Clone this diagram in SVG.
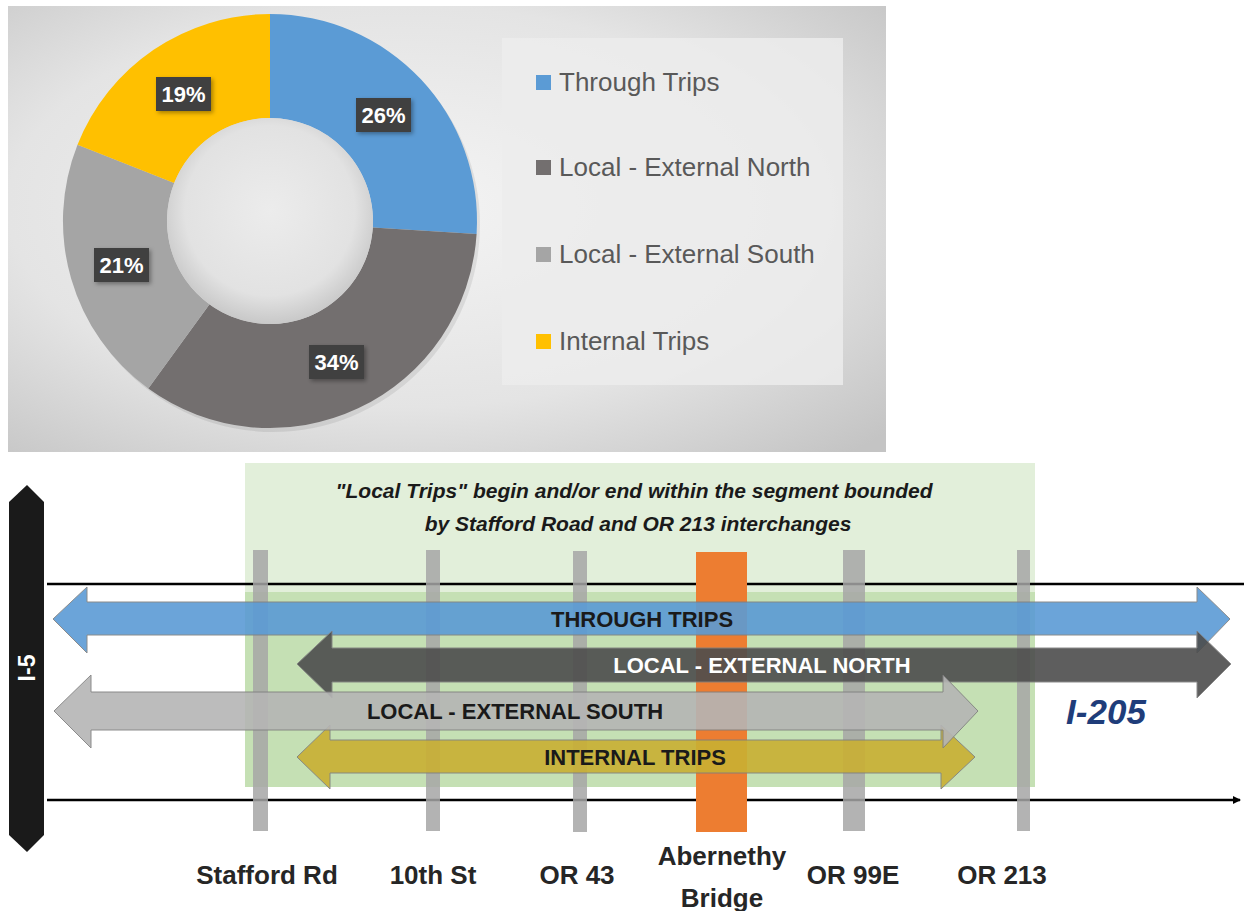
<svg xmlns="http://www.w3.org/2000/svg" width="1244" height="911" viewBox="0 0 1244 911">
<defs>
<radialGradient id="panelBg" cx="0.45" cy="0.45" r="0.75">
<stop offset="0" stop-color="#f4f4f4"/>
<stop offset="0.6" stop-color="#e4e4e4"/>
<stop offset="1" stop-color="#c4c4c4"/>
</radialGradient>
<radialGradient id="holeBg" cx="0.5" cy="0.45" r="0.55">
<stop offset="0" stop-color="#ececec"/>
<stop offset="0.75" stop-color="#e2e2e2"/>
<stop offset="1" stop-color="#c8c8c8"/>
</radialGradient>
<filter id="shadow" x="-20%" y="-20%" width="140%" height="140%">
<feDropShadow dx="2" dy="2" stdDeviation="2" flood-color="#000" flood-opacity="0.35"/>
</filter>
<marker id="arrowEnd" markerWidth="8" markerHeight="8" refX="7" refY="4" orient="auto" markerUnits="userSpaceOnUse">
<path d="M0,0 L8,4 L0,8 Z" fill="#000"/>
</marker>
<style>
.lbl{font-family:"Liberation Sans",Arial,sans-serif;font-weight:bold;font-size:22px;fill:#fff;text-anchor:middle}
.box{fill:#404040;filter:url(#shadow)}
.leg{font-family:"Liberation Sans",Arial,sans-serif;font-size:26px;fill:#595959}
.arrowtxt{font-family:"Liberation Sans",Arial,sans-serif;font-weight:bold;font-size:22px;fill:#1a1a1a;text-anchor:middle}
.place{font-family:"Liberation Sans",Arial,sans-serif;font-weight:bold;font-size:26px;fill:#262626;text-anchor:middle}
.bar{fill:#a6a6a6;opacity:0.85}
.trip{stroke:#7f7f7f;stroke-width:1;opacity:0.9}
.hwy{stroke:#000;stroke-width:2.5;fill:none}
</style>
</defs>
<rect width="1244" height="911" fill="#fff"/>

<g id="chart-panel">
<rect x="8" y="6" width="878" height="446" fill="url(#panelBg)"/>
</g>

<g id="donut">
<circle cx="273" cy="225" r="207" fill="#000" opacity="0.08"/>
<path id="slice-through" d="M270,14 A207,207 0 0 1 476.6,234 L372.8,227.5 A103,103 0 0 0 270,118 Z" fill="#5b9bd5"/>
<path id="slice-north" d="M476.6,234 A207,207 0 0 1 148.3,388.5 L209.5,304.3 A103,103 0 0 0 372.8,227.5 Z" fill="#736f6f"/>
<path id="slice-south" d="M148.3,388.5 A207,207 0 0 1 77.5,144.8 L174.2,183.1 A103,103 0 0 0 209.5,304.3 Z" fill="#a5a5a5"/>
<path id="slice-internal" d="M77.5,144.8 A207,207 0 0 1 270,14 L270,118 A103,103 0 0 0 174.2,183.1 Z" fill="#ffc000"/>
<circle cx="270" cy="221" r="103" fill="url(#holeBg)"/>
</g>

<g id="label-26">
<rect class="box" x="356" y="98" width="55" height="34"/>
<text class="lbl" x="383.5" y="123">26%</text>
</g>
<g id="label-34">
<rect class="box" x="309" y="345" width="55" height="34"/>
<text class="lbl" x="336.5" y="370">34%</text>
</g>
<g id="label-21">
<rect class="box" x="94" y="248" width="55" height="34"/>
<text class="lbl" x="121.5" y="273">21%</text>
</g>
<g id="label-19">
<rect class="box" x="156" y="77" width="55" height="34"/>
<text class="lbl" x="183.5" y="102">19%</text>
</g>

<g id="legend">
<rect x="502" y="38" width="341" height="347" fill="#ececec" opacity="0.85"/>
<rect x="536" y="75" width="15" height="15" fill="#5b9bd5"/>
<text class="leg" x="559" y="91">Through Trips</text>
<rect x="536" y="160" width="15" height="15" fill="#736f6f"/>
<text class="leg" x="559" y="176">Local - External North</text>
<rect x="536" y="247" width="15" height="15" fill="#a5a5a5"/>
<text class="leg" x="559" y="263">Local - External South</text>
<rect x="536" y="334" width="15" height="15" fill="#ffc000"/>
<text class="leg" x="559" y="350">Internal Trips</text>
</g>

<g id="local-zone">
<rect x="245" y="463" width="790" height="324" fill="#e2efda"/>
<rect x="245" y="592" width="790" height="195" fill="#c5e0b4"/>
<text font-family="'Liberation Sans',Arial,sans-serif" font-weight="bold" font-style="italic" font-size="21" fill="#1a1a1a" text-anchor="middle">
<tspan x="637" y="498">"Local Trips" begin and/or end within the segment bounded</tspan>
<tspan x="638" y="531">by Stafford Road and OR 213 interchanges</tspan>
</text>
</g>

<g id="connectors">
<line class="hwy" x1="47" y1="584" x2="1244" y2="584"/>
<line class="hwy" x1="47" y1="800" x2="1240" y2="800" marker-end="url(#arrowEnd)"/>
</g>

<g id="i5">
<polygon points="27,485 44,502 44,835 27,852 9,835 9,502" fill="#1a1a1a"/>
<text transform="translate(27,668) rotate(-90)" font-family="'Liberation Sans',Arial,sans-serif" font-weight="bold" font-size="23" fill="#fff" text-anchor="middle" y="8">I-5</text>
</g>

<g id="bar-stafford"><rect class="bar" x="253" y="550" width="15" height="281"/></g>
<g id="bar-10th"><rect class="bar" x="426" y="550" width="14" height="281"/></g>
<g id="bar-or43"><rect class="bar" x="573" y="551" width="14" height="281"/></g>
<g id="bar-abernethy"><rect x="696" y="552" width="51" height="280" fill="#ed7d31"/></g>
<g id="bar-or99e"><rect class="bar" x="843" y="550" width="22" height="281"/></g>
<g id="bar-or213"><rect class="bar" x="1017" y="550" width="13" height="281"/></g>

<g id="through-trips">
<polygon class="trip" fill="#5b9bd5" points="53,619 87,587 87,602 1197,602 1197,587 1230,619 1197,653 1197,635 87,635 87,653"/>
<text class="arrowtxt" x="642" y="627">THROUGH TRIPS</text>
</g>
<g id="local-external-north">
<polygon class="trip" fill="#4d4d4d" points="297,664 332,631 332,648 1197,648 1197,631 1231,664 1197,698 1197,682 332,682 332,698"/>
<text class="arrowtxt" x="762" y="673" style="fill:#fff">LOCAL - EXTERNAL NORTH</text>
</g>
<g id="internal-trips">
<polygon class="trip" fill="#c9b033" points="297,757 330,725 330,740 941,740 941,725 975,757 941,789 941,773 330,773 330,789"/>
<text class="arrowtxt" x="635" y="765">INTERNAL TRIPS</text>
</g>
<g id="local-external-south">
<polygon class="trip" fill="#b5b5b5" points="54,711 91,675 91,692 943,692 943,675 978,711 943,748 943,730 91,730 91,748"/>
<text class="arrowtxt" x="515" y="719">LOCAL - EXTERNAL SOUTH</text>
</g>

<g id="i205">
<text x="1106" y="724" font-family="'Liberation Sans',Arial,sans-serif" font-weight="bold" font-style="italic" font-size="35" fill="#1f3d7a" text-anchor="middle">I-205</text>
</g>

<g id="place-labels">
<text class="place" x="267" y="884">Stafford Rd</text>
<text class="place" x="433" y="884">10th St</text>
<text class="place" x="577" y="884">OR 43</text>
<text class="place" x="722" y="865">Abernethy</text>
<text class="place" x="722" y="907">Bridge</text>
<text class="place" x="853" y="884">OR 99E</text>
<text class="place" x="1002" y="884">OR 213</text>
</g>
</svg>
